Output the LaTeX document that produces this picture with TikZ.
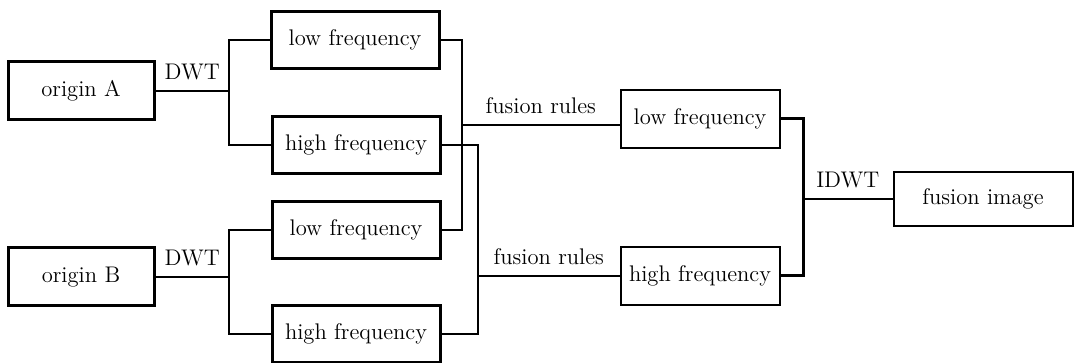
\documentclass[tikz,border=0pt]{standalone}
\usepackage{tikz}
\tikzset{
every picture/.style={x=0.5pt, y=-0.5pt, line width=0.7pt},
every node/.style={font=\fontsize{11.3}{13}\selectfont},
srcbox/.style={draw, line width=1.5pt, minimum width=73pt, minimum height=29pt, inner sep=0pt},
bandbox/.style={draw, line width=1.5pt, minimum width=84pt, minimum height=28.5pt, inner sep=0pt},
fusedbox/.style={draw, line width=1pt, minimum width=79.5pt, minimum height=29pt, inner sep=0pt},
outbox/.style={draw, line width=1pt, minimum width=89.5pt, minimum height=27pt, inner sep=0pt},
lbl/.style={above, yshift=2pt}
}

\begin{document}
\begin{tikzpicture}
    \useasboundingbox (0,0) rectangle (1076,363);
    \node[srcbox] (oA) at (81,91) {origin A};
    \node[srcbox] (oB) at (81,277) {origin B};
    \node[bandbox] (lA) at (355,40) {low frequency};
    \node[bandbox] (hA) at (356,145) {high frequency};
    \node[bandbox] (lB) at (356,230) {low frequency};
    \node[bandbox] (hB) at (356,334) {high frequency};
    \node[fusedbox] (fL) at (700,119) {low frequency};
    \node[fusedbox] (fH) at (700,276) {high frequency};
    \node[outbox] (fI) at (983,199) {fusion image};
    \coordinate (jA) at (229,91);
    \coordinate (jB) at (229,277);
    \coordinate (fl) at (462,125);
    \coordinate (fh) at (478,276);
    \coordinate (ji) at (803,199);
    \draw (oA.east) -- (jA) node[lbl, midway] {DWT};
    \draw (lA.west) -| (jA) |- (hA.west);
    \draw (oB.east) -- (jB) node[lbl, midway] {DWT};
    \draw (lB.west) -| (jB) |- (hB.west);
    \draw (lA.east) -| (fl) |- (lB.east);
    \draw (hA.east) -| (fh) |- (hB.east);
    \draw (fl) -- (fl -| fL.west) node[lbl, midway] {fusion rules};
    \draw (fh) -- (fH.west) node[lbl, midway] {fusion rules};
    \draw[line width=1.5pt] (fL.east) -| (ji) |- (fH.east);
    \draw (ji) -- (fI.west) node[lbl, midway] {IDWT};
\end{tikzpicture}
\end{document}
